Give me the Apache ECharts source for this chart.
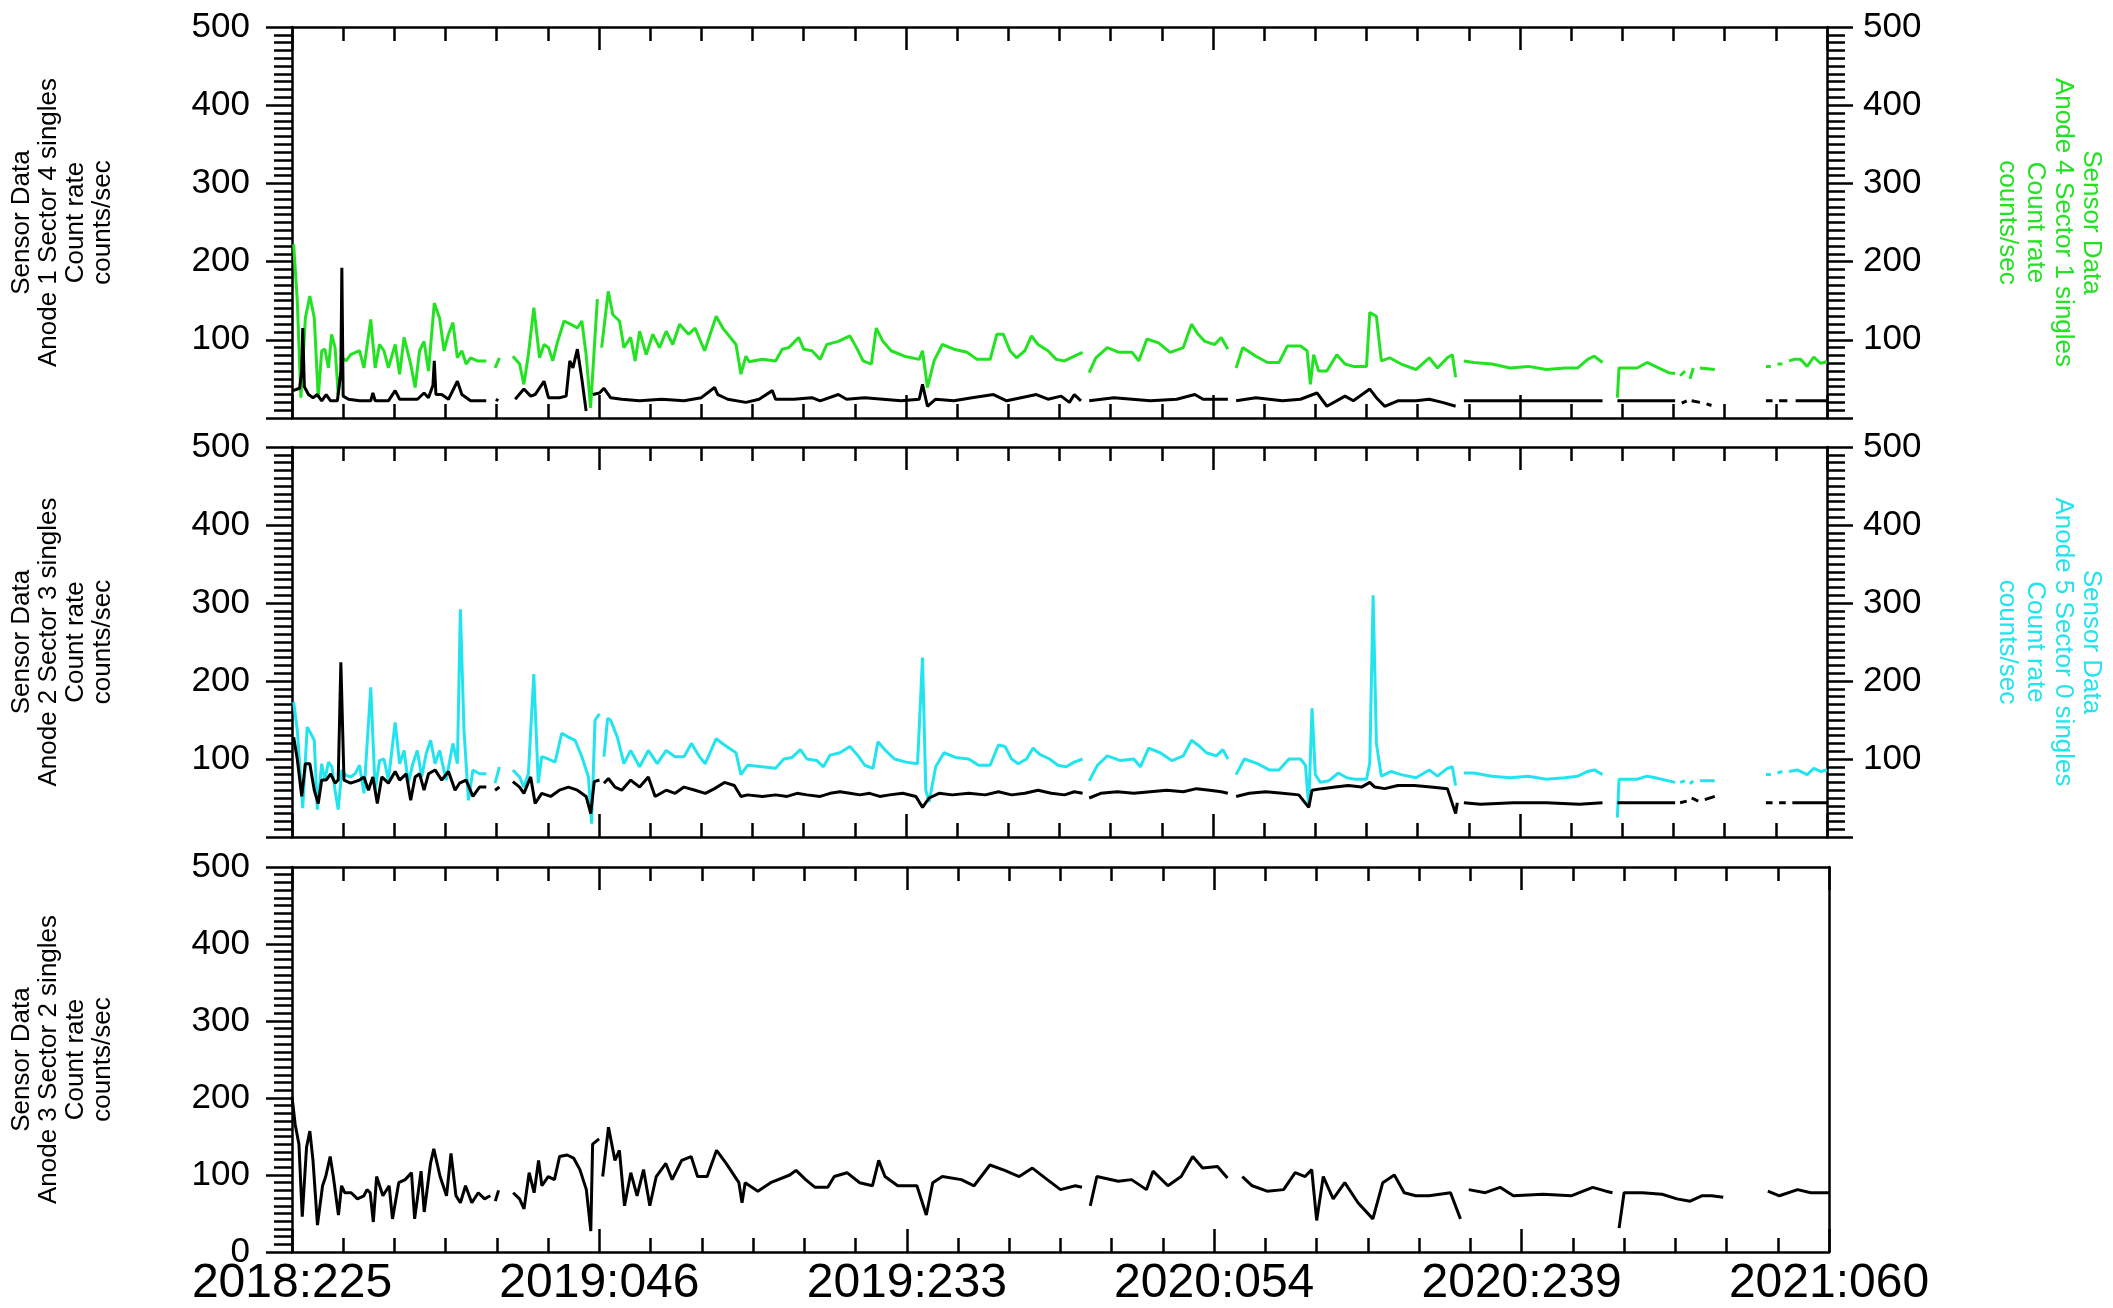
<!DOCTYPE html>
<html><head><meta charset="utf-8">
<script src="https://cdn.jsdelivr.net/npm/echarts@6/dist/echarts.min.js"></script>
<style>html,body{margin:0;padding:0;background:#fff}#c{width:2113px;height:1308px}</style>
</head><body><div id="c"></div>
<script>
// x values are days after 2018:225
const xTickLabels = ['2018:225','2019:046','2019:233','2020:054','2020:239','2021:060'];

// Panel 1, right axis (green): Anode 4 Sector 1 singles
const a4s1 = [[1,222],[3.2,150],[5.4,26],[8.1,128],[10.8,156],[13.5,128],[15.9,26],[18,86],[19.9,88],[22.1,64],[24,107],[26.1,90],[28,30],[30.7,77],[32.8,73],[35.5,81],[40.9,86],[43.6,64],[47.7,126],[50.4,64],[53,94],[55.7,86],[58.4,64],[62.5,94],[65.2,56],[67.9,103],[71.9,69],[74.6,39],[77.3,86],[80,98],[82.7,60],[86.2,147],[89.4,128],[92.1,86],[94.8,107],[97.5,122],[100.2,77],[102.9,86],[105.5,69],[108.2,77],[112.3,73],[117.7,73],[120,null],[123,64],[125.7,77],[130,null],[133.8,79],[137.9,69],[140.5,43],[143.2,81],[146.5,141],[150,77],[152.7,94],[155.4,90],[158,73],[160.7,96],[164.8,124],[168.8,120],[172.9,115],[175.6,124],[178.2,81],[180.9,13],[185,152],[186,null],[187.6,90],[191.6,162],[194.4,132],[198.4,124],[201.1,90],[205.2,103],[207.9,73],[210.6,111],[214.6,81],[218.6,107],[222.7,90],[226.7,111],[230.7,94],[234.8,120],[240.2,107],[244.2,115],[250,86],[257,130],[261,115],[269,94],[272,56],[275,79],[277,72],[285,75],[293,73],[297,88],[301,90],[307,103],[310,88],[315,86],[320,75],[324,94],[331,98],[338,105],[342,90],[346,73],[351,69],[354,115],[358,98],[363,86],[371,79],[380,75],[382,86],[385,39],[389,73],[394,94],[401,88],[409,84],[415,75],[423,75],[427,107],[431,107],[435,86],[439,77],[444,86],[448,105],[452,94],[458,86],[463,75],[468,73],[474,79],[479,84],[481,null],[483,58],[487,77],[494,90],[501,84],[509,84],[513,73],[518,101],[525,96],[532,84],[540,90],[545,120],[549,107],[553,98],[559,94],[563,103],[567,88],[569,null],[572,64],[576,90],[584,79],[591,71],[598,71],[603,92],[611,92],[615,86],[617,43],[619,81],[622,60],[627,60],[633,81],[638,69],[643,66],[651,66],[653,135],[657,130],[660,73],[665,77],[672,69],[681,62],[689,77],[694,64],[700,77],[703,81],[705,52],[707,null],[710,73],[716,71],[727,69],[738,64],[749,66],[760,62],[771,64],[779,64],[785,75],[789,79],[794,71],[798,null],[803,26],[804,64],[815,64],[821,71],[826,66],[834,58],[838,57],[839,null],[841,54],[844,60],[845.5,null],[847,50],[849,64],[851,null],[853,64],[862,62],[870,null],[893,66],[896,66],[898,null],[900,69],[903,69],[905,null],[907,73],[910,75],[914,75],[918,66],[922,78],[926,70],[930,72]];

// Panel 1, left axis (black): Anode 1 Sector 4 singles
const a1s4 = [[0.5,35],[4.6,38],[5.9,60],[6.5,115],[7.5,40],[10,30],[12.7,26],[15.3,30],[18,22],[20.7,30],[23.4,22],[27.5,22],[29.6,60],[30.2,192],[31,28],[34.2,24],[41,22],[47.7,22],[49,32],[50.4,22],[58.4,22],[60.3,28],[62.5,35],[65.2,24],[76,24],[80,32],[82.7,26],[85.4,42],[86.2,73],[87.2,30],[90.7,30],[94.8,24],[100.2,47],[102.9,30],[108.2,22],[117.7,22],[120,null],[123.5,24],[125,22],[130,null],[135.2,24],[140.5,37],[144.6,28],[147.3,30],[152.7,47],[155.4,26],[162,26],[166.1,28],[168.3,73],[170.2,64],[172.9,88],[175.6,50],[178.2,9],[180,null],[182.3,30],[186.3,32],[189,38],[193,26],[199.8,24],[210.6,22],[224,24],[237.5,22],[248,26],[256,39],[258,30],[264,24],[275,20],[283,24],[291,35],[293,24],[304,24],[315,26],[320,22],[331,30],[336,24],[347,26],[358,24],[369,22],[380,24],[382,43],[385,15],[390,24],[401,22],[412,26],[425,30],[433,22],[451,30],[458,24],[466,28],[471,20],[474,30],[478,22],[481,null],[483,22],[498,26],[520,22],[536,24],[547,30],[552,24],[567,24],[569,null],[572,22],[584,26],[600,22],[611,24],[621,32],[627,15],[638,28],[643,22],[653,37],[657,26],[662,15],[670,22],[681,22],[689,24],[697,20],[705,15],[707,null],[710,22],[794,22],[798,null],[803,22],[838,22],[839,null],[842,19],[845,22],[846,null],[848,22],[853,20],[855,null],[857,18],[860,16],[870,null],[893,22],[897,22],[899,null],[901,22],[906,22],[908,null],[911,22],[930,22]];

// Panel 2, right axis (cyan): Anode 5 Sector 0 singles
const a5s0 = [[1,173],[3.2,137],[6.5,37],[9.2,141],[11.3,133],[13.5,124],[15.3,35],[18,94],[19.9,73],[22.1,96],[24.2,90],[26.1,60],[28,35],[30.2,86],[32.8,79],[35.5,77],[38.2,81],[40.9,92],[43.6,56],[47.7,192],[50.4,60],[53,98],[55.7,100],[58.4,73],[60.3,107],[62.5,147],[65.2,94],[67.9,111],[70.5,69],[73.2,94],[75.9,111],[78.6,77],[81.3,107],[84,124],[86.7,94],[89.4,111],[93.4,73],[97.5,120],[100.2,94],[102,292],[104.2,137],[106.9,47],[109.6,86],[113.6,81],[117.7,81],[120,null],[123,69],[125.7,90],[130,null],[133.8,86],[137.9,77],[140.5,64],[143.2,81],[146.5,209],[149.2,69],[151.3,103],[155.4,100],[159.4,96],[163.4,133],[167.5,128],[171.5,124],[175.6,103],[179.6,77],[181.5,17],[183.6,150],[186.3,158],[187,null],[189,103],[191.2,152],[193,150],[197.1,128],[201.1,94],[205.2,111],[210.6,90],[215.9,111],[221.3,94],[226.7,111],[232.1,103],[237.5,103],[242,120],[246.9,103],[250.4,94],[257,126],[262,118],[269,108],[272,80],[276,92],[285,90],[293,88],[298,100],[303,102],[308,112],[312,100],[318,98],[322,90],[326,105],[332,108],[338,116],[343,104],[347,92],[352,88],[355,122],[360,110],[365,100],[372,96],[379,94],[382,230],[384,60],[386,45],[390,90],[395,108],[402,102],[410,100],[416,92],[423,92],[428,118],[432,116],[436,100],[440,94],[445,100],[449,114],[453,106],[459,100],[464,92],[469,90],[474,96],[479,100],[481,null],[483,72],[488,92],[494,104],[502,98],[510,100],[514,90],[519,114],[526,108],[533,98],[540,104],[545,124],[550,116],[554,108],[560,104],[564,112],[567,100],[569,null],[572,80],[577,100],[585,94],[592,86],[598,86],[604,100],[611,100],[614,92],[616,40],[618,165],[620,80],[623,70],[628,72],[634,82],[639,76],[644,74],[651,74],[653,95],[655,310],[657,120],[660,78],[666,84],[672,80],[681,76],[689,86],[694,78],[700,88],[703,90],[705,66],[707,null],[710,82],[716,82],[727,78],[738,76],[749,78],[760,74],[771,76],[779,78],[785,84],[789,86],[794,80],[798,null],[803,25],[804,74],[815,74],[821,78],[826,76],[834,72],[838,70],[839,null],[841,70],[844,72],[845.5,null],[847,68],[849,72],[851,null],[853,72],[862,72],[870,null],[893,80],[896,80],[898,null],[900,82],[903,84],[905,null],[907,84],[912,86],[918,80],[922,88],[926,84],[930,86]];

// Panel 2, left axis (black): Anode 2 Sector 3 singles
const a2s3 = [[1,128],[3.2,100],[5.9,52],[8.1,94],[10.8,94],[13.5,60],[15.9,43],[18,73],[20.7,73],[23.4,81],[26.1,69],[28,73],[29.6,224],[31.5,73],[35.5,69],[40.9,73],[43.6,77],[46.3,60],[49,77],[51.7,43],[54.4,77],[58.4,69],[62.5,84],[65.2,73],[69.2,81],[71.9,47],[74.6,77],[77.3,81],[80,60],[82.7,81],[86.7,86],[90.7,73],[94.8,84],[98.8,60],[101.5,69],[105.5,73],[109.6,52],[113.6,64],[117.7,64],[120,null],[123,60],[125.7,64],[130,null],[133.8,71],[137.9,64],[140.5,56],[144.6,77],[147.3,43],[151.3,56],[156.7,52],[162,60],[167.5,64],[172.9,60],[178.2,52],[181,30],[183.1,71],[186.3,73],[187,null],[189,69],[191.7,75],[195.7,64],[199.8,60],[205.2,73],[210.6,64],[215.9,77],[220,52],[226.7,60],[232.1,56],[237.5,64],[244.2,60],[250.4,56],[256,62],[262,70],[268,66],[272,52],[276,54],[285,52],[293,54],[300,52],[306,56],[312,54],[320,52],[326,56],[332,58],[338,56],[344,54],[350,56],[356,52],[362,54],[370,56],[378,52],[382,38],[386,50],[392,56],[400,54],[410,56],[420,54],[428,58],[436,54],[444,56],[452,60],[460,56],[468,54],[474,58],[479,56],[481,null],[483,50],[490,56],[500,58],[510,56],[520,58],[530,60],[540,58],[548,62],[556,60],[563,58],[567,56],[569,null],[572,52],[580,56],[590,58],[600,56],[610,54],[616,38],[618,60],[624,62],[632,64],[640,66],[648,64],[653,70],[656,64],[662,62],[670,66],[680,66],[690,64],[700,62],[705,30],[706,44],[707,null],[710,44],[720,42],[740,44],[760,44],[780,42],[794,44],[798,null],[803,44],[820,44],[838,44],[839,null],[841,44],[845,46],[846,null],[848,50],[852,46],[854,null],[856,48],[862,52],[870,null],[893,44],[897,44],[899,null],[901,44],[905,44],[907,null],[909,44],[930,44]];

// Panel 3, left axis (black): Anode 3 Sector 2 singles
const a3s2 = [[0,202],[1.9,166],[4.2,140],[6.2,46],[8.8,136],[10.8,157],[12.7,119],[15.4,35],[18.5,86],[20.4,98],[23.1,124],[25,98],[28.1,48],[30,86],[31.9,77],[35.8,77],[39.6,69],[43.5,73],[45.4,81],[47.3,77],[49.2,39],[51.2,98],[55,73],[58.8,86],[60.8,43],[64.6,90],[68.5,94],[72.3,103],[74.2,43],[78.1,105],[80,52],[83.8,115],[85.8,134],[89.6,98],[93.5,73],[96.2,128],[99.2,73],[101.9,64],[105,86],[108.8,64],[112.7,77],[116.5,69],[120,73],[121,null],[123,66],[125,80],[127,null],[133.8,77],[137.7,69],[140.4,56],[143.5,103],[146.5,77],[149.2,119],[151.2,86],[155,98],[158.8,94],[161.9,124],[166.5,126],[170.4,122],[174.2,107],[178.1,81],[180.8,27],[181.9,140],[185.8,147],[187,null],[188,98],[191.5,162],[195.4,119],[198.1,132],[201.2,60],[205,103],[208.8,73],[212.7,107],[216.5,60],[220.4,98],[226.2,115],[230,94],[235.8,119],[241.5,124],[245.4,98],[251.2,98],[256.9,132],[262.7,115],[270.4,90],[272.3,64],[274.2,90],[281.9,79],[289.6,90],[301.2,100],[305,106],[310.8,94],[316.5,84],[324.2,84],[328.1,98],[335.8,103],[343.5,90],[351.2,86],[355,119],[358.8,98],[366.5,86],[378.1,86],[383.8,48],[387.7,90],[393.5,98],[405,94],[412.7,86],[422.3,113],[431.2,106],[440,98],[448,109],[457,94],[465,81],[474,86],[478,84],[480,null],[483,60],[487,98],[500,92],[508,94],[517,81],[521,105],[530,86],[538,98],[545,124],[551,109],[560,111],[566,96],[569,null],[575,98],[581,86],[590,79],[600,81],[607,103],[613,98],[617,107],[620,41],[624,98],[630,69],[637,90],[645,64],[654,43],[660,90],[667,100],[673,77],[680,73],[688,73],[701,77],[707,43],[709,null],[712,81],[722,77],[731,84],[739,73],[757,75],[774,73],[787,84],[795,79],[799,77],[801,null],[803,31],[806,77],[817,77],[829,75],[838,69],[846,66],[853,73],[859,73],[866,71],[870,null],[893,79],[900,73],[911,81],[919,77],[930,77]];

const leftNames = ['Sensor Data\nAnode 1 Sector 4 singles\nCount rate\ncounts/sec',
                   'Sensor Data\nAnode 2 Sector 3 singles\nCount rate\ncounts/sec',
                   'Sensor Data\nAnode 3 Sector 2 singles\nCount rate\ncounts/sec'];
const rightNames = ['Sensor Data\nAnode 4 Sector 1 singles\nCount rate\ncounts/sec',
                    'Sensor Data\nAnode 5 Sector 0 singles\nCount rate\ncounts/sec'];

const FONT = "'Liberation Sans', Arial, Helvetica, sans-serif";
const GREEN = '#22e222', CYAN = '#22e4ee', BLACK = '#000000';
const rightColors = [GREEN, CYAN];
const grids = [{left:285, width:1544, top:27, height:391},
               {left:285, width:1544, top:447, height:390},
               {left:285, width:1544, top:867, height:394}];

const xAxis = [], yAxis = [];
grids.forEach((g, i) => {
  ['bottom', 'top'].forEach(pos => {
    xAxis.push({
      gridIndex: i, type: 'value', position: pos, min: 0, max: 930, interval: 186,
      axisLine: {show: true, onZero: false, lineStyle: {color: BLACK, width: 2.5}},
      axisTick: {show: true, inside: true, length: 23, lineStyle: {color: BLACK, width: 2.5}},
      minorTick: {show: true, splitNumber: 6, length: 14, lineStyle: {color: BLACK, width: 2.5}},
      splitLine: {show: false}, minorSplitLine: {show: false},
      axisLabel: {show: i === 2 && pos === 'bottom', fontFamily: FONT, fontSize: 48, color: BLACK, margin: 8,
        formatter: v => xTickLabels[Math.round(v / 186)]}
    });
  });
  const yCommon = (pos, showTicks) => ({
    gridIndex: i, type: 'value', position: pos, min: 0, max: 500, interval: 100,
    axisLine: {show: true, onZero: false, lineStyle: {color: BLACK, width: 2.5}},
    axisTick: {show: showTicks, inside: false, length: 26, lineStyle: {color: BLACK, width: 2.5}},
    minorTick: {show: showTicks, splitNumber: 10, length: 18, lineStyle: {color: BLACK, width: 2.5}},
    splitLine: {show: false}, minorSplitLine: {show: false},
    axisLabel: {show: showTicks, fontFamily: FONT, fontSize: 35, color: BLACK,
      margin: pos === 'left' ? 42 : 36, showMinLabel: i === 2}
  });
  const left = yCommon('left', true);
  left.name = leftNames[i];
  left.nameLocation = 'middle';
  left.nameRotate = 90;
  left.nameGap = 176;
  left.nameTextStyle = {fontFamily: FONT, fontSize: 26, lineHeight: 27, color: BLACK};
  yAxis.push(left);
  if (i < 2) {
    const right = yCommon('right', true);
    right.name = rightNames[i];
    right.nameLocation = 'middle';
    right.nameRotate = -90;
    right.nameGap = 166;
    right.nameTextStyle = {fontFamily: FONT, fontSize: 26, lineHeight: 28, color: rightColors[i]};
    yAxis.push(right);
  } else {
    yAxis.push(yCommon('right', false));
  }
});

const mk = (data, color, gi, yi) => ({
  type: 'line', data: data, xAxisIndex: gi * 2, yAxisIndex: yi,
  symbol: 'none', showSymbol: false, connectNulls: false, silent: true,
  lineStyle: {color: color, width: 3}, itemStyle: {color: color}
});

const chart = echarts.init(document.getElementById('c'));
chart.setOption({
  animation: false,
  backgroundColor: '#ffffff',
  grid: grids,
  xAxis: xAxis,
  yAxis: yAxis,
  series: [
    mk(a4s1, GREEN, 0, 1),
    mk(a1s4, BLACK, 0, 0),
    mk(a5s0, CYAN, 1, 3),
    mk(a2s3, BLACK, 1, 2),
    mk(a3s2, BLACK, 2, 4)
  ]
});
</script>
</body></html>
